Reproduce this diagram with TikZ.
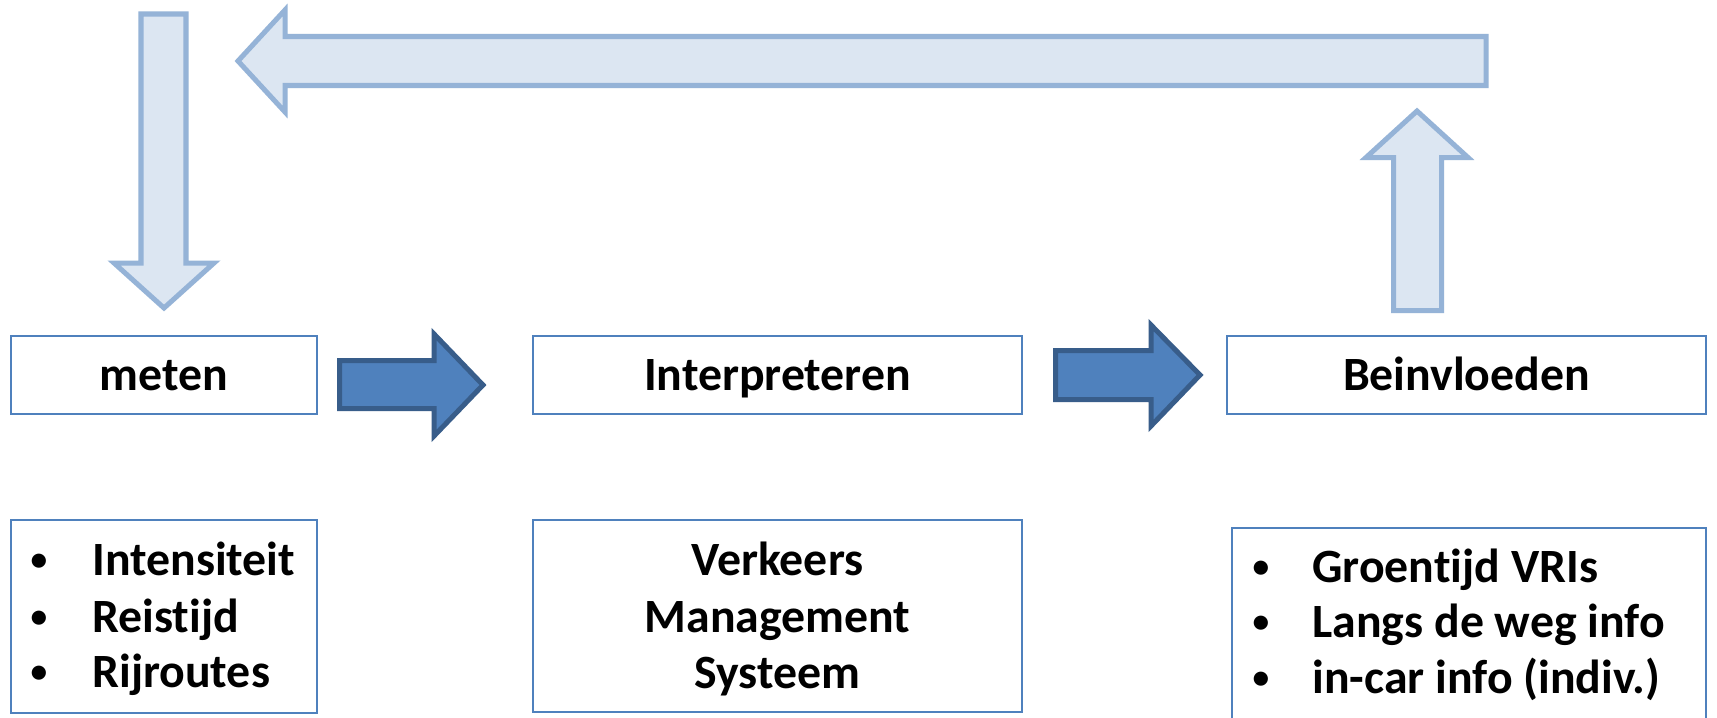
\documentclass[tikz,border=0pt]{standalone}
\usepackage{fontspec}
\setmainfont{Carlito}[Ligatures={NoCommon}]
\definecolor{lightfill}{HTML}{DCE6F2}
\definecolor{lightline}{HTML}{95B3D7}
\definecolor{darkfill}{HTML}{4F81BD}
\definecolor{darkline}{HTML}{385D8A}
\definecolor{boxline}{HTML}{4F81BD}
\tikzset{
  box/.style={draw=boxline, line width=1.1pt, fill=white, inner sep=0pt},
  lbl/.style={font=\bfseries\fontsize{27.2}{31.9}\selectfont, inner sep=0pt, anchor=base},
  item/.style={lbl, anchor=base west},
  bul/.style={font=\bfseries\fontsize{19}{22}\selectfont, inner sep=0pt, anchor=base},
  lightarrow/.style={fill=lightfill, draw=lightline, line width=2.85pt, line join=miter},
  darkarrow/.style={fill=darkfill, draw=darkline, line width=2.85pt, line join=miter}
}
\begin{document}
\begin{tikzpicture}[x=0.02cm, y=-0.02cm]
\clip (0,0) rectangle (1717,717);
\fill[white] (0,0) rectangle (1717,717);

% top row boxes
\node[box, minimum width=6.12cm, minimum height=1.56cm] (meten) at (164,375) {};
\node[box, minimum width=9.78cm, minimum height=1.56cm] (interp) at (777.5,375) {};
\node[box, minimum width=9.58cm, minimum height=1.56cm] (bein) at (1466.5,375) {};
\node[lbl] (tmeten) at (164,390) {meten};
\node[lbl] (tinterp) at (777.5,390) {Interpreteren};
\node[lbl] (tbein) at (1466.5,390) {Beinvloeden};

% bottom row boxes
\node[box, minimum width=6.12cm, minimum height=3.86cm] (lista) at (164,616.5) {};
\node[box, minimum width=9.78cm, minimum height=3.84cm] (vms) at (777.5,616) {};
\node[box, minimum width=9.48cm, minimum height=4.24cm] (listb) at (1469,634) {};

% left list
\node[bul] (ba1) at (39,570) {•};
\node[bul] (ba2) at (39,627) {•};
\node[bul] (ba3) at (39,682) {•};
\node[item] (la1) at (92,575) {Intensiteit};
\node[item] (la2) at (92,632) {Reistijd};
\node[item] (la3) at (92,687) {Rijroutes};

% middle text
\node[lbl] (v1) at (777.5,575) {Verkeers};
\node[lbl] (v2) at (777.5,632) {Management};
\node[lbl] (v3) at (777.5,688) {Systeem};

% right list
\node[bul] (bb1) at (1261,577) {•};
\node[bul] (bb2) at (1261,632) {•};
\node[bul] (bb3) at (1261,688) {•};
\node[item] (lb1) at (1312,582) {Groentijd VRIs};
\node[item] (lb2) at (1312,637) {Langs de weg info};
\node[item] (lb3) at (1312,693) {in-car info (indiv.)};

% light feedback arrows
\draw[lightarrow] (1393.5,310.5) -- (1441.5,310.5) -- (1441.5,157.5) -- (1468,157.5)
  -- (1417,111) -- (1366,157.5) -- (1393.5,157.5) -- cycle;
\draw[lightarrow] (1486,36.5) -- (1486,85.5) -- (285,85.5) -- (285,112)
  -- (238,61) -- (285,10) -- (285,36.5) -- cycle;
\draw[lightarrow] (141,14) -- (186,14) -- (186,263) -- (214,263)
  -- (164,308) -- (114,263) -- (141,263) -- cycle;

% dark process arrows
\draw[darkarrow] (339.5,360.5) -- (434,360.5) -- (434,334) -- (483,385)
  -- (434,436) -- (434,408.5) -- (339.5,408.5) -- cycle;
\draw[darkarrow] (1055.5,350.5) -- (1151,350.5) -- (1151,325) -- (1200,375)
  -- (1151,426) -- (1151,399.5) -- (1055.5,399.5) -- cycle;
\end{tikzpicture}
\end{document}
